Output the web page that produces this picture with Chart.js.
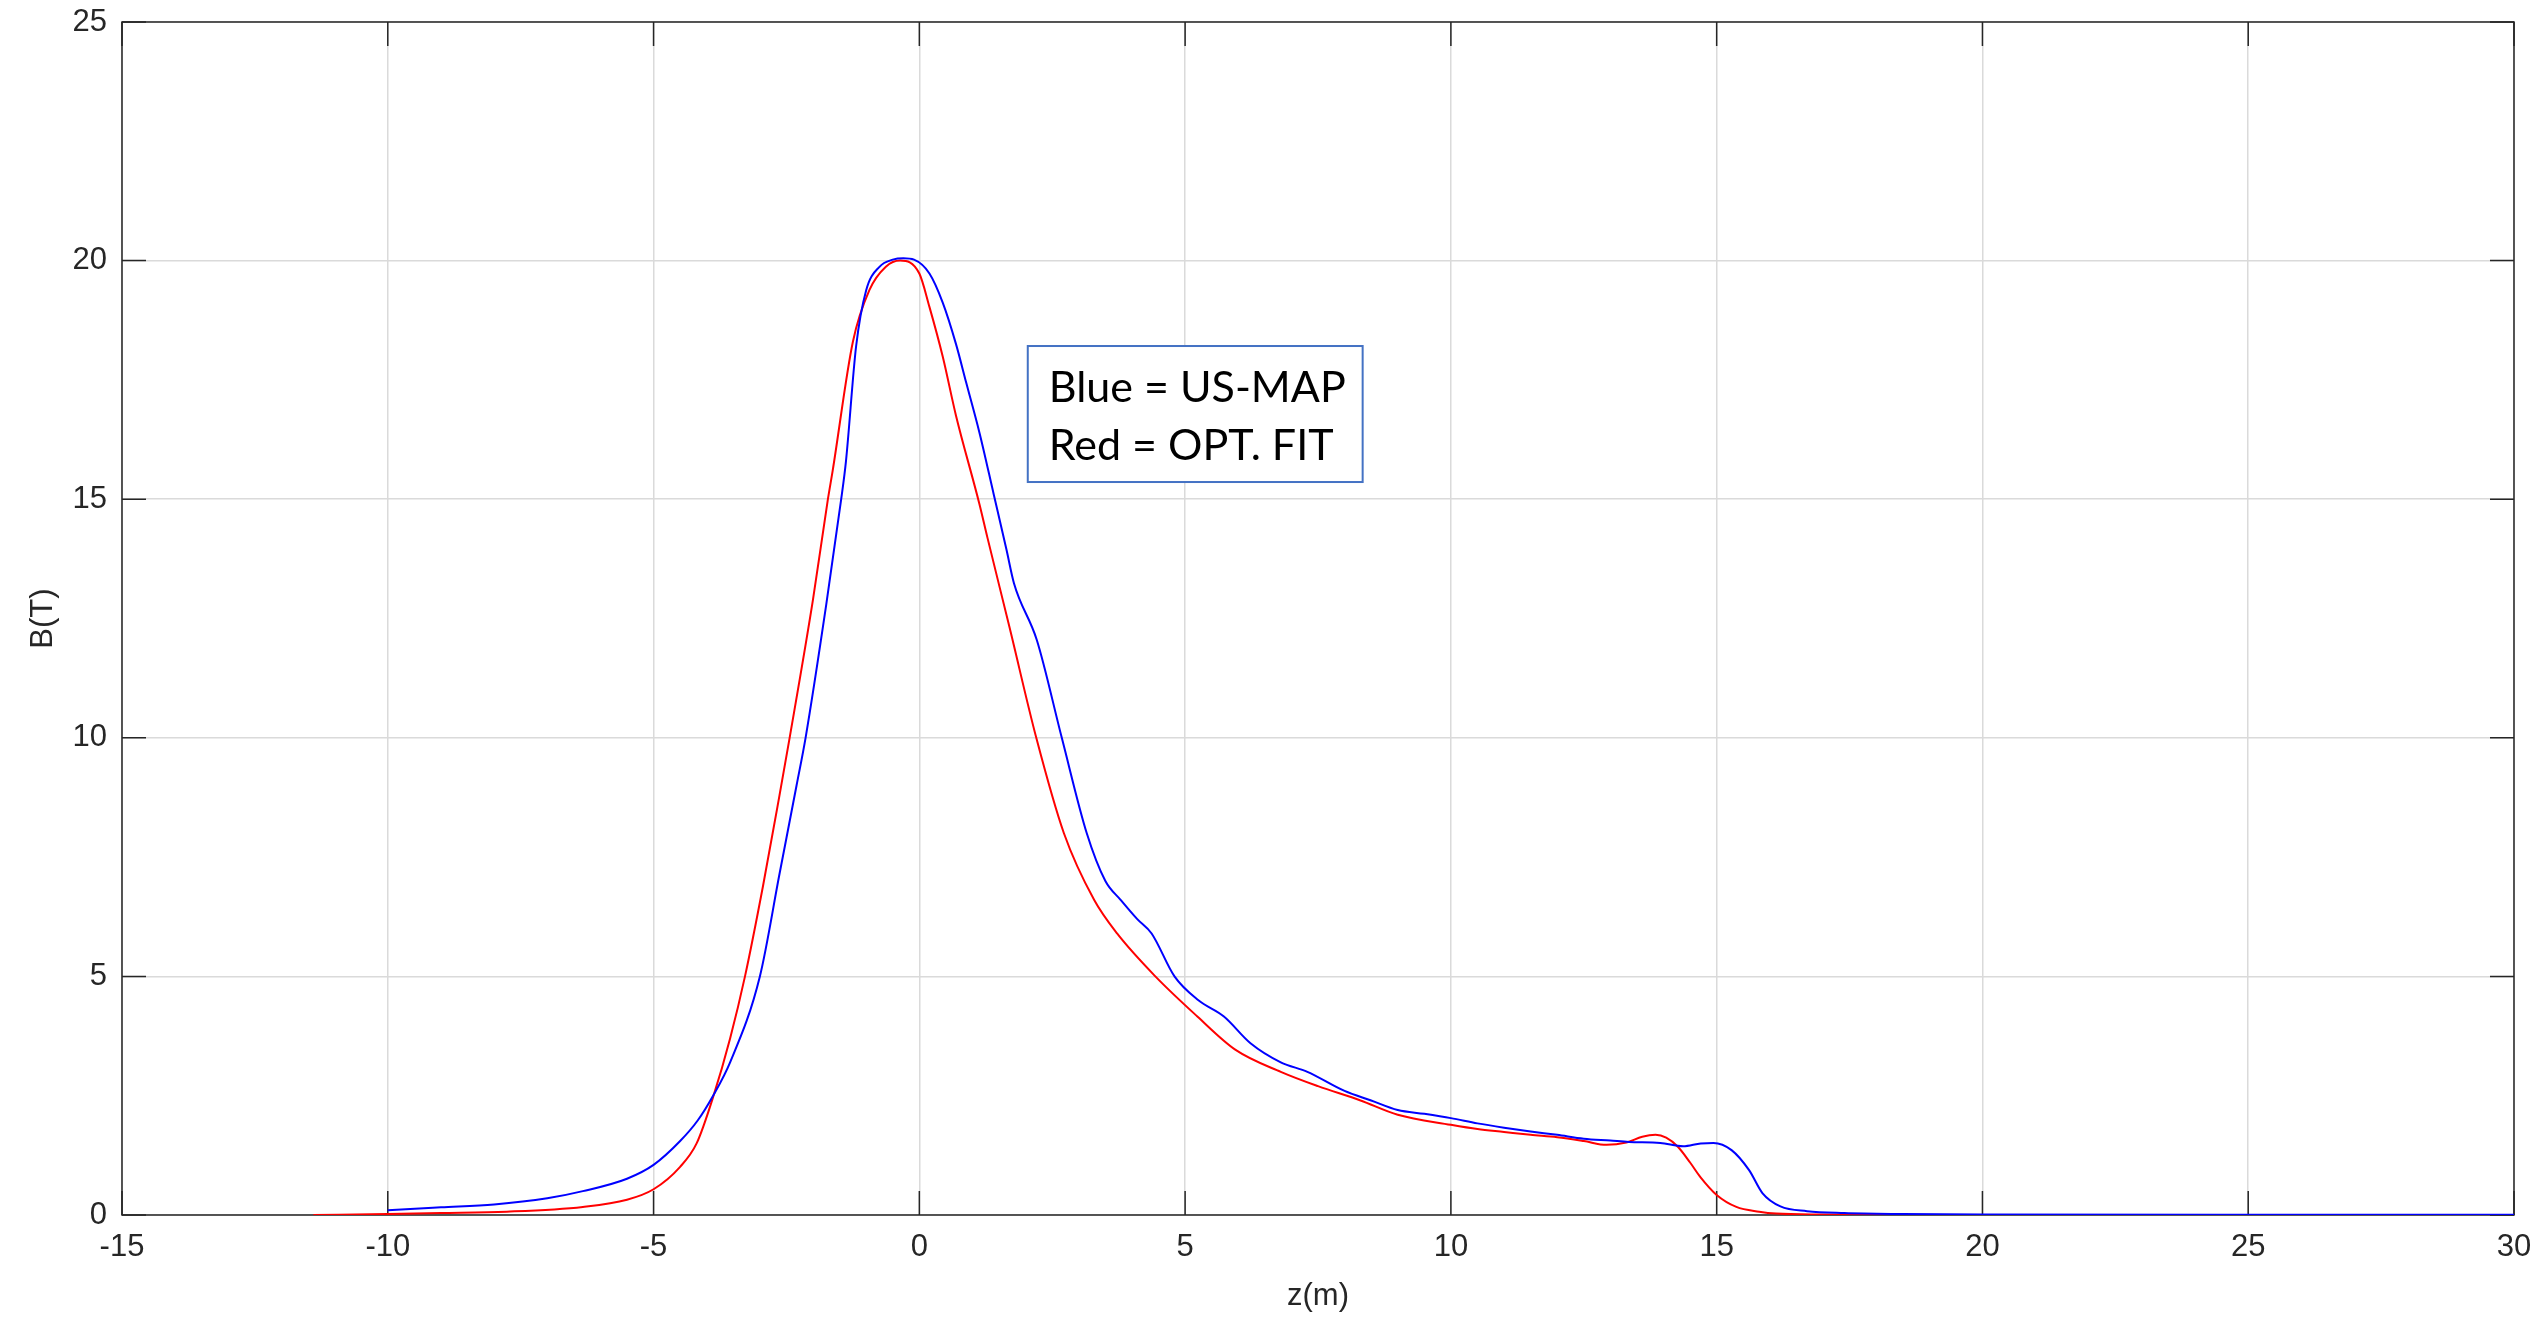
<!DOCTYPE html>
<html>
<head>
<meta charset="utf-8">
<script src="https://cdn.jsdelivr.net/npm/chart.js@4.4.1/dist/chart.umd.min.js"></script>
<style>
  html, body { margin: 0; padding: 0; background: #fff; }
  canvas { display: block; }
</style>
</head>
<body>
<canvas id="grafica" width="2542" height="1322"></canvas>
<script>
// US-MAP (azul)
const zMap = [-10, -9, -8, -7, -6.33, -5.5, -5, -4.5, -4.17, -3.88, -3.56, -3.0, -2.63, -2.31, -2.14, -1.75, -1.47,
  -1.38, -1.19, -1.0, -0.75, -0.5, -0.3, -0.1, 0.19, 0.44, 0.69, 0.88, 1.13, 1.4, 1.64, 1.78, 2.21, 2.68, 3.15, 3.5, 3.79,
  4.1, 4.37, 4.8, 5.25, 5.73, 6.23, 6.8, 7.3, 8, 8.5, 9, 9.5, 10, 10.5, 11, 11.5, 12, 12.5, 13, 13.35, 13.94, 14.37,
  14.7, 14.94, 15.28, 15.61, 15.86, 16.2, 16.7, 17.4, 18.5, 20, 25, 30];
const bMap = [0.10, 0.16, 0.22, 0.35, 0.5, 0.76, 1.05, 1.55, 1.98, 2.5, 3.2, 5.0, 7.15, 9.0, 10.0, 12.8, 15.0,
  15.8, 18.2, 19.38, 19.87, 20.02, 20.05, 20.02, 19.73, 19.12, 18.25, 17.45, 16.4, 15.1, 13.94, 13.24, 12.05, 10.0, 8.0, 7.0, 6.6,
  6.2, 5.9, 5.0, 4.5, 4.16, 3.6, 3.2, 3.0, 2.6, 2.4, 2.2, 2.12, 2.03, 1.92, 1.83, 1.75, 1.68, 1.6, 1.56, 1.53, 1.51, 1.44,
  1.5, 1.51, 1.36, 0.94, 0.46, 0.18, 0.08, 0.04, 0.02, 0.01, 0.005, 0.003];

// OPT. FIT (rojo)
const zFit = [-11.4, -10, -9, -7.76, -6.33, -5.5, -5, -4.5, -4.19, -3.88, -3.56, -3.28, -2.94, -2.63, -2.44, -2.0,
  -1.72, -1.63, -1.25, -0.94, -0.63, -0.36, 0.0, 0.19, 0.44, 0.69, 1.13, 1.28, 1.7, 2.2, 2.72, 3.29, 3.72, 4.44, 5.23,
  5.95, 6.8, 7.5, 8.3, 9, 10, 10.5, 11, 11.5, 12, 12.5, 12.93, 13.3, 13.6, 13.85, 14.05, 14.27, 14.5, 14.69, 15.0,
  15.37, 15.8, 16.12, 17, 18.6];
const bFit = [0.0, 0.02, 0.04, 0.07, 0.17, 0.32, 0.54, 1.01, 1.5, 2.47, 3.7, 5.0, 6.9, 8.8, 10.0, 12.9,
  15.0, 15.6, 18.3, 19.38, 19.87, 20.0, 19.73, 19.03, 17.99, 16.75, 14.9, 14.2, 12.3, 10.0, 8.0, 6.6, 5.9, 5.0, 4.16,
  3.46, 3.0, 2.7, 2.4, 2.1, 1.89, 1.8, 1.74, 1.68, 1.63, 1.55, 1.47, 1.52, 1.64, 1.68, 1.62, 1.43, 1.1, 0.8, 0.42,
  0.17, 0.07, 0.03, 0.01, 0.0];

const xTicks = [-15, -10, -5, 0, 5, 10, 15, 20, 25, 30];
const yTicks = [0, 5, 10, 15, 20, 25];
const legendLines = ['Blue = US-MAP', 'Red = OPT. FIT'];

const toPoints = (zs, bs) => zs.map((z, i) => ({ x: z, y: bs[i] }));

const tickFont = { family: '"Liberation Sans", Arial, sans-serif', size: 31 };
const inkColor = '#262626';

// caja de ejes estilo MATLAB con marcas hacia dentro
const marcoMatlab = {
  id: 'marcoMatlab',
  beforeDatasetsDraw(chart) {
    const { ctx, chartArea: a, scales: { x, y } } = chart;
    const len = 24;
    ctx.save();
    ctx.strokeStyle = inkColor;
    ctx.lineWidth = 1.5;
    ctx.strokeRect(a.left, a.top, a.right - a.left, a.bottom - a.top);
    ctx.beginPath();
    xTicks.forEach(v => {
      const px = x.getPixelForValue(v);
      ctx.moveTo(px, a.bottom); ctx.lineTo(px, a.bottom - len);
      ctx.moveTo(px, a.top); ctx.lineTo(px, a.top + len);
    });
    yTicks.forEach(v => {
      const py = y.getPixelForValue(v);
      ctx.moveTo(a.left, py); ctx.lineTo(a.left + len, py);
      ctx.moveTo(a.right, py); ctx.lineTo(a.right - len, py);
    });
    ctx.stroke();
    ctx.restore();
  },
  afterDatasetsDraw(chart) {
    // cuadro de texto con la leyenda
    const { ctx, scales: { x, y } } = chart;
    const left = x.getPixelForValue(2.04), right = x.getPixelForValue(8.34);
    const top = y.getPixelForValue(18.21), bottom = y.getPixelForValue(15.36);
    ctx.save();
    ctx.fillStyle = '#fff';
    ctx.fillRect(left, top, right - left, bottom - top);
    ctx.strokeStyle = '#4472c4';
    ctx.lineWidth = 2;
    ctx.strokeRect(left, top, right - left, bottom - top);
    ctx.fillStyle = '#000';
    ctx.font = '43px Lato, "Open Sans", sans-serif';
    ctx.textBaseline = 'middle';
    ctx.fillText(legendLines[0], left + 21, top + 42);
    ctx.fillText(legendLines[1], left + 21, top + 100);
    ctx.restore();
  }
};

const ctxB = document.getElementById('grafica').getContext('2d');
new Chart(ctxB, {
  type: 'line',
  data: {
    datasets: [
      {
        label: 'US-MAP',
        data: toPoints(zMap, bMap),
        borderColor: '#0000ff',
        borderWidth: 2,
        pointRadius: 0,
        cubicInterpolationMode: 'monotone',
        fill: false
      },
      {
        label: 'OPT. FIT',
        data: toPoints(zFit, bFit),
        borderColor: '#ff0000',
        borderWidth: 2,
        pointRadius: 0,
        cubicInterpolationMode: 'monotone',
        fill: false
      }
    ]
  },
  options: {
    responsive: false,
    animation: false,
    layout: { padding: { top: 22, right: 28, left: 0, bottom: 0 } },
    plugins: { legend: { display: false }, tooltip: { enabled: false } },
    scales: {
      x: {
        type: 'linear',
        min: -15,
        max: 30,
        afterFit: s => { s.height = 107; s.paddingLeft = 0; s.paddingRight = 0; },
        afterBuildTicks: s => { s.ticks = xTicks.map(v => ({ value: v })); },
        grid: { color: '#dadada', lineWidth: 1.5, drawTicks: false },
        border: { display: false },
        ticks: { font: tickFont, color: inkColor, padding: 14, maxRotation: 0 },
        title: { display: true, text: 'z(m)', font: tickFont, color: inkColor, padding: { top: 0, bottom: 7 } }
      },
      y: {
        type: 'linear',
        min: 0,
        max: 25,
        afterFit: s => { s.width = 122; s.paddingTop = 0; s.paddingBottom = 0; },
        afterBuildTicks: s => { s.ticks = yTicks.map(v => ({ value: v })); },
        grid: { color: '#dadada', lineWidth: 1.5, drawTicks: false },
        border: { display: false },
        ticks: { font: tickFont, color: inkColor, padding: 15 },
        title: { display: true, text: 'B(T)', font: tickFont, color: inkColor, padding: { top: 25, bottom: 0 } }
      }
    }
  },
  plugins: [marcoMatlab]
});
</script>
</body>
</html>
